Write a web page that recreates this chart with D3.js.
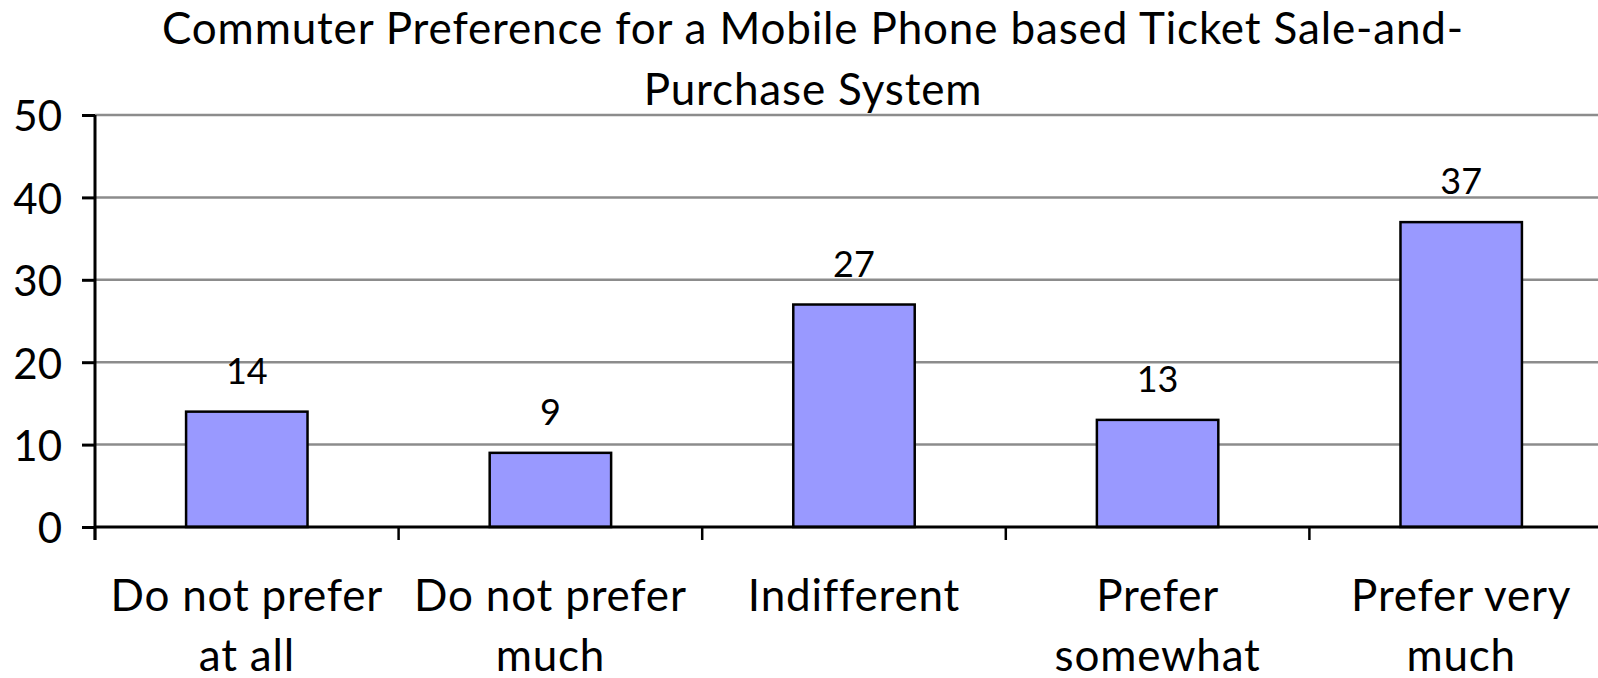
<!DOCTYPE html>
<html>
<head>
<meta charset="utf-8">
<script src="https://cdn.jsdelivr.net/npm/d3@7"></script>
<style>
  body { margin: 0; background: #fff; }
  svg { display: block; font-family: Lato, "DejaVu Sans Condensed", sans-serif; }
</style>
</head>
<body>
<svg></svg>
<script>
let width = 1598
let height = 678

let titleLines = ["Commuter Preference for a Mobile Phone based Ticket Sale-and-", "Purchase System"]
let categories = ["Do not prefer at all", "Do not prefer much", "Indifferent", "Prefer somewhat", "Prefer very much"]
let labelLines = [["Do not prefer", "at all"], ["Do not prefer", "much"], ["Indifferent"], ["Prefer", "somewhat"], ["Prefer very", "much"]]
let values = [14, 9, 27, 13, 37]
let yTicks = [0, 10, 20, 30, 40, 50]

let plotLeft = 95
let plotRight = 1613
let plotTop = 115
let plotBottom = 527
let tickLen = 13

let svg = d3.select("svg").attr("width", width).attr("height", height)

let xScale = d3.scaleBand()
  .domain(categories)
  .range([plotLeft, plotRight])
  .paddingInner(0.6)
  .paddingOuter(0.3)

let yScale = d3.scaleLinear()
  .domain([0, 50])
  .range([plotBottom, plotTop])

// gridlines
svg.append("g")
  .selectAll("line")
  .data(yTicks.filter(d => d > 0))
  .enter()
  .append("line")
  .attr("x1", plotLeft)
  .attr("x2", plotRight)
  .attr("y1", d => yScale(d))
  .attr("y2", d => yScale(d))
  .attr("stroke", "#8c8c8c")
  .attr("stroke-width", 2.5)

// bars
svg.append("g")
  .selectAll("rect")
  .data(values)
  .enter()
  .append("rect")
  .attr("x", (d, i) => xScale(categories[i]))
  .attr("y", d => yScale(d))
  .attr("width", xScale.bandwidth())
  .attr("height", d => yScale(0) - yScale(d))
  .attr("fill", "#9999ff")
  .attr("stroke", "#000")
  .attr("stroke-width", 2.5)

// value labels
svg.append("g")
  .selectAll("text")
  .data(values)
  .enter()
  .append("text")
  .attr("x", (d, i) => xScale(categories[i]) + xScale.bandwidth() / 2)
  .attr("y", d => yScale(d) - 28)
  .attr("text-anchor", "middle")
  .attr("font-size", 36)
  .text(d => d)

// y axis
let yAxis = d3.axisLeft(yScale).tickValues(yTicks).tickSize(tickLen).tickPadding(20)
let yg = svg.append("g")
  .attr("transform", "translate(" + plotLeft + ",0)")
  .call(yAxis)
yg.attr("font-family", null).attr("font-size", null)
yg.select(".domain").remove()
yg.selectAll(".tick line").attr("stroke", "#000").attr("stroke-width", 3)
yg.selectAll(".tick text").attr("font-size", 42).attr("fill", "#000").attr("dy", "0.38em")
yg.append("line")
  .attr("x1", 0).attr("x2", 0)
  .attr("y1", yScale(50)).attr("y2", yScale(0) + tickLen)
  .attr("stroke", "#000").attr("stroke-width", 3)

// x axis: line, boundary ticks, two-line labels
let step = xScale.step()
let gap = step - xScale.bandwidth()
let bounds = categories.map(c => xScale(c) - gap / 2).concat([plotRight])

let xg = svg.append("g")
xg.append("line")
  .attr("x1", plotLeft).attr("x2", plotRight)
  .attr("y1", yScale(0)).attr("y2", yScale(0))
  .attr("stroke", "#000").attr("stroke-width", 3)
xg.selectAll("line.tick")
  .data(bounds)
  .enter()
  .append("line")
  .attr("class", "tick")
  .attr("x1", d => d).attr("x2", d => d)
  .attr("y1", yScale(0)).attr("y2", yScale(0) + tickLen)
  .attr("stroke", "#000").attr("stroke-width", 2.5)

let labels = xg.selectAll("text")
  .data(labelLines)
  .enter()
  .append("text")
  .attr("text-anchor", "middle")
  .attr("font-size", 44)
  .attr("letter-spacing", 0.8)
  .attr("x", (d, i) => xScale(categories[i]) + xScale.bandwidth() / 2)
  .attr("y", 611)

labels.selectAll("tspan")
  .data(d => d)
  .enter()
  .append("tspan")
  .attr("x", function () { return d3.select(this.parentNode).attr("x") })
  .attr("dy", (d, i) => i === 0 ? 0 : 60)
  .text(d => d)

// title
svg.append("text")
  .attr("text-anchor", "middle")
  .attr("font-size", 44)
  .attr("letter-spacing", 0.85)
  .attr("x", 813)
  .attr("y", 44)
  .selectAll("tspan")
  .data(titleLines)
  .enter()
  .append("tspan")
  .attr("x", 813)
  .attr("dy", (d, i) => i === 0 ? 0 : 61)
  .text(d => d)
</script>
</body>
</html>
